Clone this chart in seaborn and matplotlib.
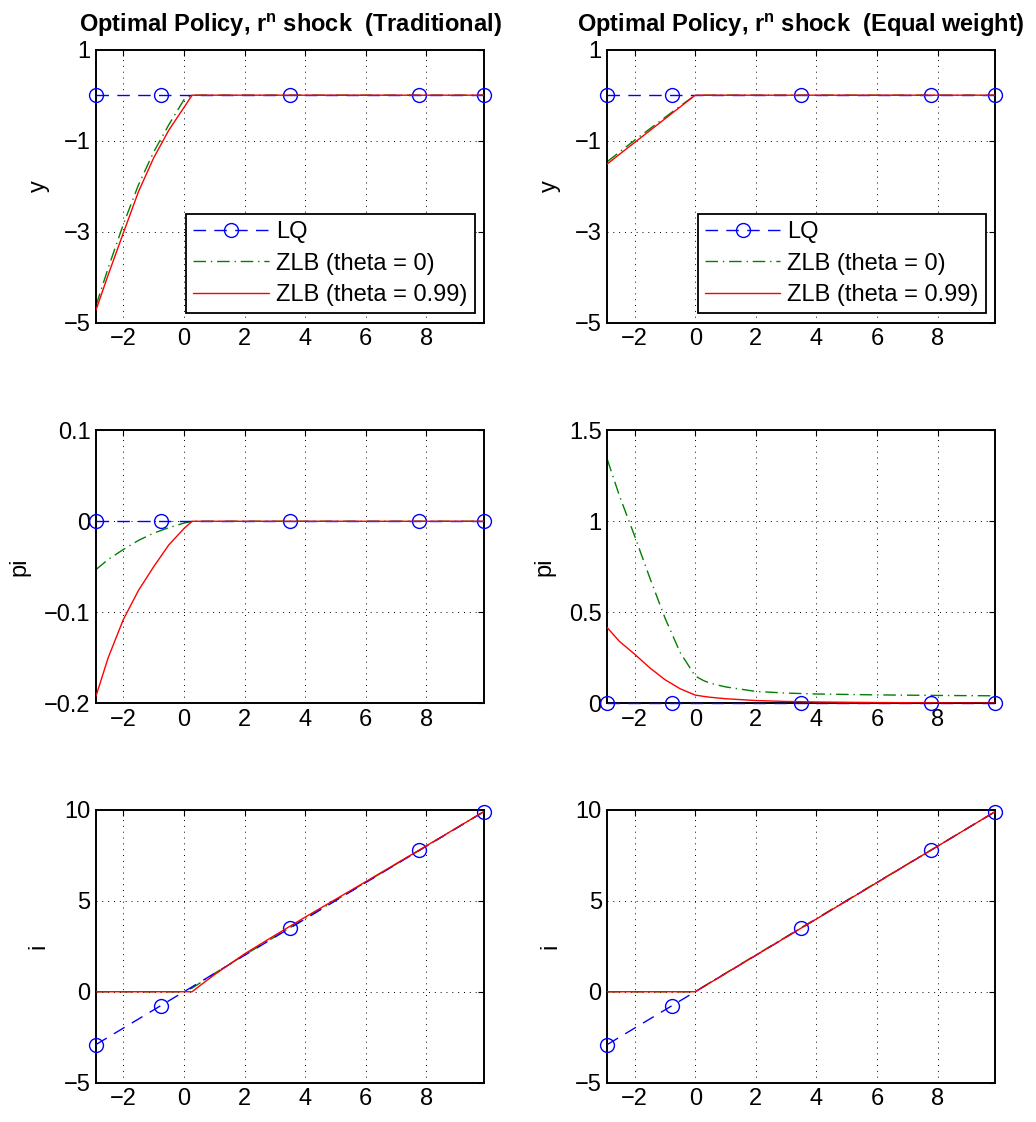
import matplotlib
matplotlib.use("Agg")
import matplotlib.pyplot as plt
import matplotlib.ticker as mticker
import seaborn as sns

# x values (r^n shock)
x_lq = [-2.9, -0.77, 3.5, 7.77, 9.9]
x_zlb = [-2.9, -2.5, -2.0, -1.5, -1.0, -0.5, 0.0, 0.27, 0.5, 1.0, 2.0, 3.0, 4.0, 6.0, 8.0, 9.9]

# LQ solution
y_lq = [0, 0, 0, 0, 0]
pi_lq = [0, 0, 0, 0, 0]
i_lq = [-2.9, -0.77, 3.5, 7.77, 9.9]

# Traditional weights
y_trad_th0 = [-4.62, -3.80, -2.84, -1.97, -1.25, -0.65, -0.10, 0, 0, 0, 0, 0, 0, 0, 0, 0]
y_trad_th99 = [-4.72, -3.95, -3.03, -2.12, -1.38, -0.77, -0.27, 0, 0, 0, 0, 0, 0, 0, 0, 0]
pi_trad_th0 = [-0.053, -0.042, -0.031, -0.021, -0.013, -0.007, -0.002, 0, 0, 0, 0, 0, 0, 0, 0, 0]
pi_trad_th99 = [-0.192, -0.150, -0.108, -0.076, -0.050, -0.026, -0.008, 0, 0, 0, 0, 0, 0, 0, 0, 0]
i_trad_th0 = [0, 0, 0, 0, 0, 0, 0, 0.2, 0.45, 1.0, 2.02, 3.02, 4.02, 6.02, 8.0, 9.9]
i_trad_th99 = [0, 0, 0, 0, 0, 0, 0, 0, 0.3, 0.93, 2.08, 3.1, 4.1, 6.05, 8.02, 9.9]

# Equal weights
y_eq_th0 = [-1.46, -1.25, -0.99, -0.74, -0.49, -0.24, 0, 0, 0, 0, 0, 0, 0, 0, 0, 0]
y_eq_th99 = [-1.51, -1.30, -1.04, -0.78, -0.52, -0.26, 0, 0, 0, 0, 0, 0, 0, 0, 0, 0]
pi_eq_th0 = [1.34, 1.14, 0.92, 0.69, 0.47, 0.28, 0.15, 0.125, 0.11, 0.09, 0.065, 0.056, 0.051, 0.046, 0.043, 0.041]
pi_eq_th99 = [0.415, 0.34, 0.27, 0.195, 0.13, 0.08, 0.045, 0.038, 0.033, 0.025, 0.015, 0.01, 0.007, 0.004, 0.002, 0.001]
i_eq_th0 = [0, 0, 0, 0, 0, 0, 0, 0.28, 0.52, 1.02, 2.02, 3.02, 4.02, 6.02, 8.0, 9.9]
i_eq_th99 = [0, 0, 0, 0, 0, 0, 0, 0.27, 0.5, 1.0, 2.0, 3.0, 4.0, 6.0, 8.0, 9.9]

titles = ["Optimal Policy, $\\mathbf{r^n}$ shock  (Traditional)",
          "Optimal Policy, $\\mathbf{r^n}$ shock  (Equal weight)"]
ylabels = ["y", "pi", "i"]
x_ticks = [-2, 0, 2, 4, 6, 8]

sns.set_theme(style="white")
plt.rcParams['font.family'] = ['Liberation Sans', 'DejaVu Sans']
plt.rcParams['mathtext.fontset'] = 'custom'
plt.rcParams['mathtext.rm'] = 'Liberation Sans'
plt.rcParams['mathtext.bf'] = 'Liberation Sans:bold'
plt.rcParams['text.color'] = 'black'
plt.rcParams['axes.labelcolor'] = 'black'

fig = plt.figure(figsize=(10.36, 11.22), dpi=100)

lefts = [0.0927, 0.5862]
bottoms = [0.7124, 0.3732, 0.035]
w, h = 0.3745, 0.2433

panels = [
    [(y_lq, y_trad_th0, y_trad_th99), (pi_lq, pi_trad_th0, pi_trad_th99), (i_lq, i_trad_th0, i_trad_th99)],
    [(y_lq, y_eq_th0, y_eq_th99), (pi_lq, pi_eq_th0, pi_eq_th99), (i_lq, i_eq_th0, i_eq_th99)],
]
ylims = [[(-5, 1), (-0.2, 0.1), (-5, 10)], [(-5, 1), (0, 1.5), (-5, 10)]]
yticks = [[[-5, -3, -1, 1], [-0.2, -0.1, 0, 0.1], [-5, 0, 5, 10]],
          [[-5, -3, -1, 1], [0, 0.5, 1, 1.5], [-5, 0, 5, 10]]]

fmt = mticker.FuncFormatter(lambda v, p: f"{v:g}".replace("-", "\u2212"))

for c in range(2):
    for r in range(3):
        ax = fig.add_axes([lefts[c], bottoms[r], w, h])
        lq, th0, th99 = panels[c][r]
        sns.lineplot(x=x_lq, y=lq, ax=ax, color="blue", linestyle=(0, (9, 6)), linewidth=1,
                     marker="o", markersize=10, markerfacecolor="none", markeredgecolor="blue",
                     markeredgewidth=1, label="LQ", legend=False, zorder=3, clip_on=False)
        sns.lineplot(x=x_zlb, y=th0, ax=ax, color=(0, 0.5, 0), linestyle=(0, (9, 3.5, 1, 3.5)),
                     linewidth=1, label="ZLB (theta = 0)", legend=False, zorder=2)
        sns.lineplot(x=x_zlb, y=th99, ax=ax, color="red", linewidth=1,
                     label="ZLB (theta = 0.99)", legend=False, zorder=4)
        ax.set_xlim(-2.9, 9.9)
        ax.set_ylim(*ylims[c][r])
        ax.set_xticks(x_ticks)
        ax.set_yticks(yticks[c][r])
        ax.xaxis.set_major_formatter(fmt)
        ax.yaxis.set_major_formatter(fmt)
        ax.grid(True, color="black", linestyle=(0, (1, 5)), linewidth=0.7)
        ax.tick_params(direction="in", top=True, right=True, length=4, width=0.8,
                       labelsize=17, colors="black", pad=4)
        for s in ax.spines.values():
            s.set_color("black")
            s.set_linewidth(1.4)
        ax.set_ylabel(ylabels[r], fontsize=17, labelpad=10)
        ax.set_xlabel("")
        if r == 0:
            ax.set_title(titles[c], fontsize=17, fontweight="bold", pad=13)
            ax.legend(loc="lower right", fontsize=17, frameon=True, fancybox=False,
                      edgecolor="black", framealpha=1, handlelength=3.2,
                      labelspacing=0.4, borderaxespad=0.4, borderpad=0.3,
                      handletextpad=0.3).get_frame().set_linewidth(1.3)
        elif ax.get_legend() is not None:
            ax.get_legend().remove()

fig.savefig("out.png", dpi=100, facecolor="white")
